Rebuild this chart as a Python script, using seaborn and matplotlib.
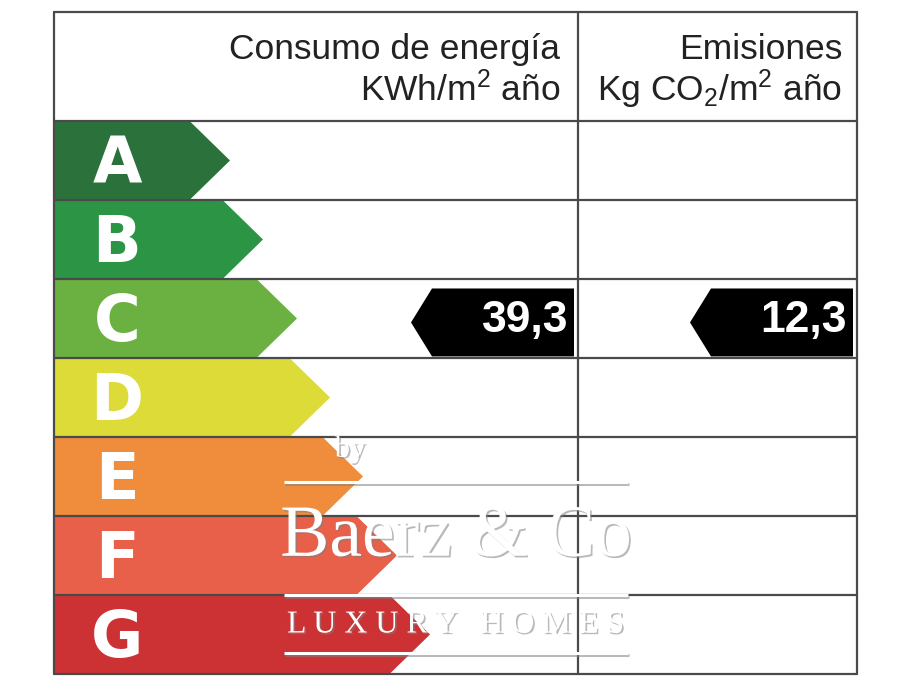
import matplotlib
matplotlib.use("Agg")
import matplotlib.pyplot as plt
import matplotlib.patheffects as pe
import seaborn as sns
import pandas as pd

# ---------------- data ----------------
categories = ["A", "B", "C", "D", "E", "F", "G"]
band_lengths = [136, 169, 203, 236, 269, 303, 336]      # length of each band body
band_colors = ["#2b713b", "#2b9545", "#6ab141", "#dcdb37", "#f08d3d", "#e8604a", "#cc3134"]
energy_rating = "C"
energy_value = 39.3
emission_rating = "C"
emission_value = 12.3
header_energy = ["Consumo de energía", r"KWh/m$^{\mathregular{2}}$ año"]
header_emission = ["Emisiones", r"Kg CO$_{\mathregular{2}}$/m$^{\mathregular{2}}$ año"]

# ---------------- style ----------------
sns.set_theme(style="white")
plt.rcParams["font.family"] = ["Liberation Sans", "DejaVu Sans"]
plt.rcParams["mathtext.fontset"] = "custom"
plt.rcParams["mathtext.rm"] = "Liberation Sans"
plt.rcParams["mathtext.it"] = "Liberation Sans"

df = pd.DataFrame({"cat": categories, "len": band_lengths})

W, H = 910, 684
fig = plt.figure(figsize=(W / 100, H / 100), dpi=100)
fig.patch.set_facecolor("white")
tbl_left, tbl_right, tbl_top, tbl_bot = 54, 857, 12, 674
ax = fig.add_axes([tbl_left / W, (H - tbl_bot) / H,
                   (tbl_right - tbl_left) / W, (tbl_bot - tbl_top) / H])

row_px = (tbl_bot - 121) / 7
header_rows = (121 - tbl_top) / row_px
tbl_w = tbl_right - tbl_left
col_div = 578 - tbl_left
tip_len = 40

sns.barplot(data=df, y="cat", x="len", hue="cat", palette=band_colors,
            orient="h", width=1.0, dodge=False, legend=False, ax=ax,
            edgecolor="none", linewidth=0, saturation=1, zorder=1)

# arrow tips from the bar geometry
for p, c in zip(ax.patches, band_colors):
    y0 = p.get_y()
    h = p.get_height()
    x1 = p.get_x() + p.get_width()
    ax.fill([x1 - 0.5, x1 + tip_len, x1 - 0.5], [y0, y0 + h / 2, y0 + h],
            color=c, lw=0, zorder=1)

ax.set_xlim(0, tbl_w)
ax.set_ylim(len(categories) - 0.5, -0.5 - header_rows)
ax.set_axis_off()

# grid
line_kw = dict(color="#4a4a4a", lw=1.6, zorder=3, clip_on=False)
for yb in [-0.5 - header_rows] + [i - 0.5 for i in range(len(categories) + 1)]:
    ax.plot([0, tbl_w], [yb, yb], **line_kw)
for xb in [0, col_div, tbl_w]:
    ax.plot([xb, xb], [-0.5 - header_rows, len(categories) - 0.5], **line_kw)

# letters
for i, cat in enumerate(categories):
    ax.text(63, i + 0.06, cat, color="white", fontsize=46, fontweight="bold",
            family="DejaVu Sans", ha="center", va="center", zorder=4)

# header
hy1 = (59 - 121) / row_px - 0.5
hy2 = (101 - 121) / row_px - 0.5
hkw = dict(ha="right", va="baseline", fontsize=25.5, color="#222222", zorder=4)
ax.text(560 - tbl_left, hy1, header_energy[0], **hkw)
ax.text(560 - tbl_left, hy2, header_energy[1], **hkw)
ax.text(842 - tbl_left, hy1, header_emission[0], **hkw)
ax.text(842 - tbl_left, hy2, header_emission[1], **hkw)

# rating pointers
def pointer(rating, value, right_edge):
    i = categories.index(rating)
    yc = i + 0.05
    hh = 0.43
    body_w = 142
    xr = right_edge
    xl = xr - body_w
    ax.fill([xr, xl, xl - 21, xl, xr], [yc - hh, yc - hh, yc, yc + hh, yc + hh],
            color="black", lw=0, zorder=4)
    ax.text(xr - 6, yc - 0.02, f"{value:.1f}".replace(".", ","), color="white",
            fontsize=32, fontweight="bold", ha="right", va="center", zorder=5)

pointer(energy_rating, energy_value, 574 - tbl_left)
pointer(emission_rating, emission_value, 853 - tbl_left)

# watermark
shadow = [pe.SimplePatchShadow(offset=(1.2, -1.2), shadow_rgbFace="#808080", alpha=0.55),
          pe.Normal()]
def ry(px):
    return (px - 121) / row_px - 0.5
wm_l, wm_r = 284 - tbl_left, 628 - tbl_left
ax.text(350 - tbl_left, ry(449), "by", family="Liberation Serif", fontsize=22,
        color="white", ha="center", va="center", zorder=6, path_effects=shadow)
for ly in [482, 595, 653]:
    ax.plot([wm_l, wm_r], [ry(ly), ry(ly)], color="white", lw=2.2, zorder=6,
            solid_capstyle="butt",
            path_effects=[pe.SimpleLineShadow(offset=(1, -1.2), shadow_color="#808080", alpha=0.55),
                          pe.Normal()])
ax.text((wm_l + wm_r) / 2, ry(538), "Baerz & Co", family="Liberation Serif",
        fontsize=53, color="white", ha="center", va="center", zorder=6,
        path_effects=shadow)
ax.text((wm_l + wm_r) / 2, ry(625), "L U X U R Y   H O M E S", family="Liberation Serif",
        fontsize=23, color="white", ha="center", va="center", zorder=6,
        path_effects=shadow)

fig.savefig("out.png", dpi=100, facecolor="white")
